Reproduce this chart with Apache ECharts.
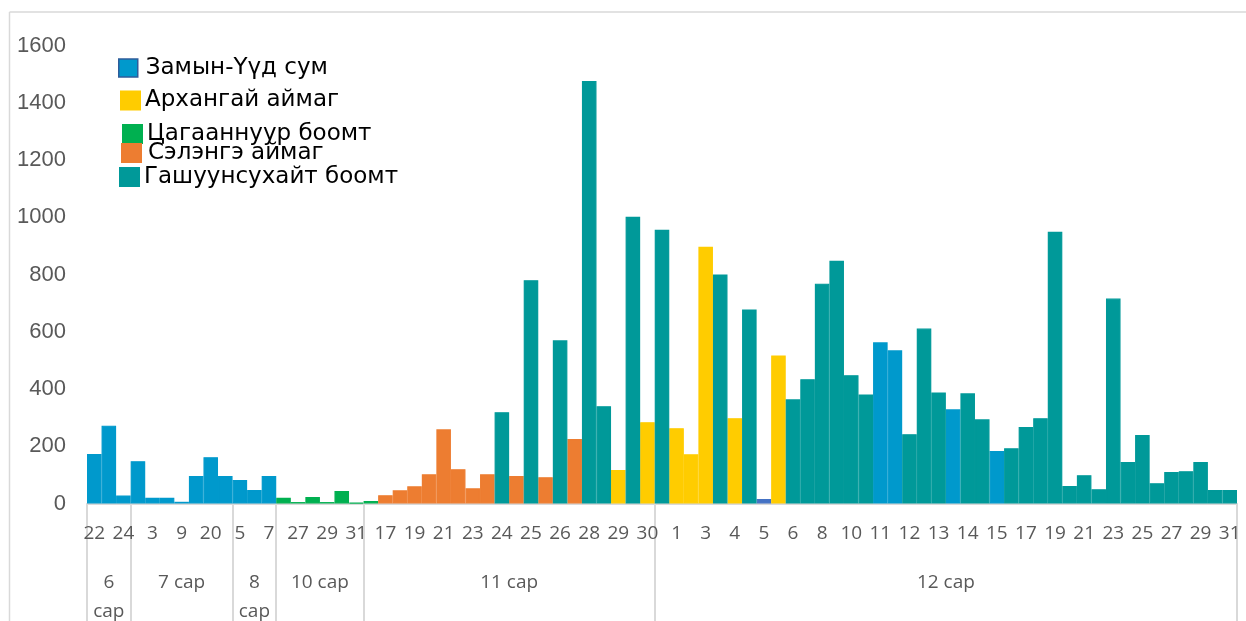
<!DOCTYPE html>
<html><head><meta charset="utf-8">
<script src="https://cdn.jsdelivr.net/npm/echarts@6/dist/echarts.min.js"></script>
<style>html,body{margin:0;padding:0;background:#fff}#c{width:1246px;height:621px}</style>
</head><body><div id="c"></div>
<script>
const seriesNames = ['Замын-Үүд сум','Архангай аймаг','Цагааннуур боомт','Сэлэнгэ аймаг','Гашуунсухайт боомт'];
const seriesColors = ['#0099CC','#FFCC00','#00B050','#ED7D31','#009999'];

const dayLabels = ['22','23','24','1','3','6','9','17','20','27','5','6','7',
  '26','27','28','29','30','31',
  '16','17','18','19','20','21','22','23','23','24','24','25','25','26','26','28','28','29','29','30',
  '30','1','2','3','3','4','4','5','5','6','7','8','9','10','10','11','11','12','12','13','13','14','14','15','16','17','18','19','20','21','22','23','24','25','26','27','28','29','30','31'];

const values = [173,272,28,148,20,20,6,96,162,96,82,47,96,
  20,5,23,5,44,2,
  9,29,46,60,102,259,120,53,102,319,96,780,92,570,225,1476,340,117,1002,284,
  956,263,172,897,800,298,678,16,517,364,434,768,848,448,381,563,535,242,611,388,329,385,294,183,193,267,298,949,61,99,50,716,145,239,71,110,113,145,47,47];

// index into seriesNames for each category
const sourceIndex = [0,0,0,0,0,0,0,0,0,0,0,0,0,
  2,2,2,2,2,2,
  2,3,3,3,3,3,3,3,3,4,3,4,3,4,3,4,4,1,4,1,
  4,1,1,1,4,1,4,0,1,4,4,4,4,4,4,0,0,4,4,4,0,4,4,0,4,4,4,4,4,4,4,4,4,4,4,4,4,4,4,4];

const monthNames = ['6 сар','7 сар','8 сар','10 сар','11 сар','12 сар'];
const monthCounts = [3,7,3,6,20,40];

const yMin = 0, yMax = 1600, yStep = 200;

// derived
const boundaryIdx = new Set();
const monthCenters = {};
let acc = 0;
monthNames.forEach((m, i) => {
  boundaryIdx.add(acc);
  const c = acc + monthCounts[i] / 2;
  monthCenters[c.toFixed(1)] = monthCounts[i] <= 3 ? m.replace(' ', '\n') : m;
  acc += monthCounts[i];
});
const total = acc;

const darkPoint = new Set([46]);
const darkColor = '#4472C4';

const series = seriesNames.map((name, si) => ({
  name, type: 'bar', stack: 'all', barCategoryGap: '0%', barGap: '0%',
  itemStyle: {color: seriesColors[si], borderColor: seriesColors[si], borderWidth: 1.2},
  emphasis: {disabled: true},
  data: values.map((v, i) => {
    if (sourceIndex[i] !== si) return '-';
    if (darkPoint.has(i)) return {value: v, itemStyle: {color: darkColor, borderColor: darkColor}};
    return v;
  })
}));

// [iconLeft, iconTop, textShiftX, textShiftY]
const legendPos = [[118,55,3,4],[120,89,-1,0],[122,122,-2,-3],[121,140,2,4],[119,160,0,8]];
const legends = seriesNames.map((n, i) => {
  const [l, t, dx, dy] = legendPos[i];
  return {
    data: [n], left: l, top: t,
    itemWidth: 19, itemHeight: 18, icon: 'rect', padding: 0,
    selectedMode: false,
    itemStyle: i === 0 ? {borderColor: '#2E5C9A', borderWidth: 1.5} : {},
    textStyle: {fontSize: 23, lineHeight: 18, color: '#000', fontFamily: 'DejaVu Sans',
      padding: [dy > 0 ? 2 * dy : 0, 0, dy < 0 ? -2 * dy : 0, Math.max(0, dx)]}
  };
});

const chart = echarts.init(document.getElementById('c'));
chart.setOption({
  animation: false,
  backgroundColor: '#fff',
  legend: legends,
  grid: {left: 87, right: 9, top: 45.5, bottom: 117.5, outerBoundsMode: 'none', containLabel: false},
  xAxis: [{
    type: 'category', data: dayLabels, boundaryGap: true,
    axisLine: {lineStyle: {color: '#D9D9D9', width: 2}},
    axisTick: {show: true, interval: (i) => boundaryIdx.has(i), length: 125,
      lineStyle: {color: '#D9D9D9', width: 2}},
    axisLabel: {interval: 1, margin: 21, fontSize: 19, fontFamily: 'Open Sans', color: '#595959'}
  }, {
    type: 'value', position: 'bottom', min: 0, max: total, interval: 0.5,
    axisLine: {show: false}, axisTick: {show: false}, splitLine: {show: false},
    axisLabel: {margin: 65, fontSize: 19, lineHeight: 29, fontFamily: 'Open Sans', color: '#595959',
      showMinLabel: true, showMaxLabel: true,
      formatter: (v) => monthCenters[Number(v).toFixed(1)] || ''}
  }],
  yAxis: {
    type: 'value', min: yMin, max: yMax, interval: yStep,
    axisLine: {show: false}, axisTick: {show: false}, splitLine: {show: false},
    axisLabel: {margin: 21, fontSize: 22, fontFamily: 'Liberation Sans', color: '#595959',
      formatter: (v) => String(v)}
  },
  graphic: [
    {type: 'line', shape: {x1: 9.5, y1: 12, x2: 1246, y2: 12}, style: {stroke: '#D9D9D9', lineWidth: 1.5}},
    {type: 'line', shape: {x1: 9.5, y1: 12, x2: 9.5, y2: 621}, style: {stroke: '#D9D9D9', lineWidth: 1.5}}
  ],
  series
});
</script></body></html>
